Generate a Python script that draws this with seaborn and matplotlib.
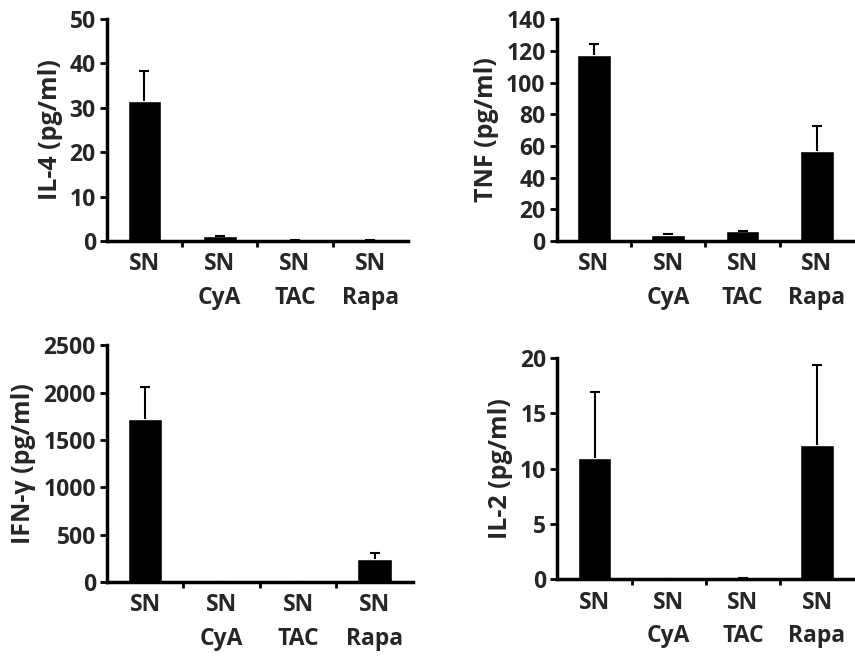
import numpy as np
import pandas as pd
import matplotlib
matplotlib.use("Agg")
import matplotlib.pyplot as plt
import seaborn as sns

# -------------------------------
# Data
# -------------------------------
groups = ["SN", "SN\nCyA", "SN\nTAC", "SN\nRapa"]

il4_mean = [31.5, 1.2, 0.1, 0.1]
il4_err = [6.7, 0.0, 0.0, 0.0]

tnf_mean = [117.5, 3.5, 6.3, 57.0]
tnf_err = [6.8, 0.6, 0.0, 15.3]

ifng_mean = [1720, 3, 3, 240]
ifng_err = [335, 0, 0, 72]

il2_mean = [10.95, 0.0, 0.1, 12.15]
il2_err = [5.95, 0.0, 0.0, 7.15]

panels = [
    ("IL-4 (pg/ml)", il4_mean, il4_err, 50, 10),
    ("TNF (pg/ml)", tnf_mean, tnf_err, 140, 20),
    ("IFN-\u03b3 (pg/ml)", ifng_mean, ifng_err, 2500, 500),
    ("IL-2 (pg/ml)", il2_mean, il2_err, 20, 5),
]

# axes boxes in figure fractions [left, bottom, width, height]
boxes = [
    [0.125, 0.635, 0.352, 0.336],
    [0.651, 0.635, 0.348, 0.336],
    [0.125, 0.118, 0.358, 0.359],
    [0.652, 0.122, 0.347, 0.336],
]

sns.set_style("white")
plt.rcParams["font.family"] = ["Open Sans", "DejaVu Sans"]
plt.rcParams["font.weight"] = "bold"

fig = plt.figure(figsize=(8.55, 6.6), dpi=100)

for (label, mean, err, ymax, step), box in zip(panels, boxes):
    ax = fig.add_axes(box)
    df = pd.DataFrame({"Group": groups, "Value": mean})
    sns.barplot(data=df, x="Group", y="Value", color="black", width=0.45,
                saturation=1, ax=ax, errorbar=None)
    x = np.arange(len(groups))
    top = np.array(mean) + np.array(err)
    # one-sided (upper) error bars with a cap only at the top
    ax.vlines(x, mean, top, color="black", lw=1.5, zorder=3)
    ax.plot(x, top, ls="none", marker="_", ms=7, mew=1.5, color="black",
            zorder=3)
    ax.set_xlim(-0.5, 3.5)
    ax.set_ylim(0, ymax)
    ax.set_yticks(np.arange(0, ymax + step / 2, step))
    ax.set_xlabel("")
    ax.set_ylabel(label, fontsize=18, fontweight="bold", labelpad=5)
    sns.despine(ax=ax)
    for sp in ["left", "bottom"]:
        ax.spines[sp].set_linewidth(2.5)
        ax.spines[sp].set_color("black")
    ax.set_xticks([0.5, 1.5, 2.5], minor=True)
    ax.tick_params(axis="x", which="major", length=0, pad=8,
                   labelsize=16.5)
    ax.tick_params(axis="x", which="minor", length=4, width=2,
                   direction="out", color="black", bottom=True)
    ax.tick_params(axis="y", length=5, width=2, direction="out",
                   color="black", labelsize=16.5, pad=3, left=True)
    for t in ax.get_xticklabels() + ax.get_yticklabels():
        t.set_fontweight("bold")
        t.set_linespacing(1.55)

fig.savefig("out.png", dpi=100)
